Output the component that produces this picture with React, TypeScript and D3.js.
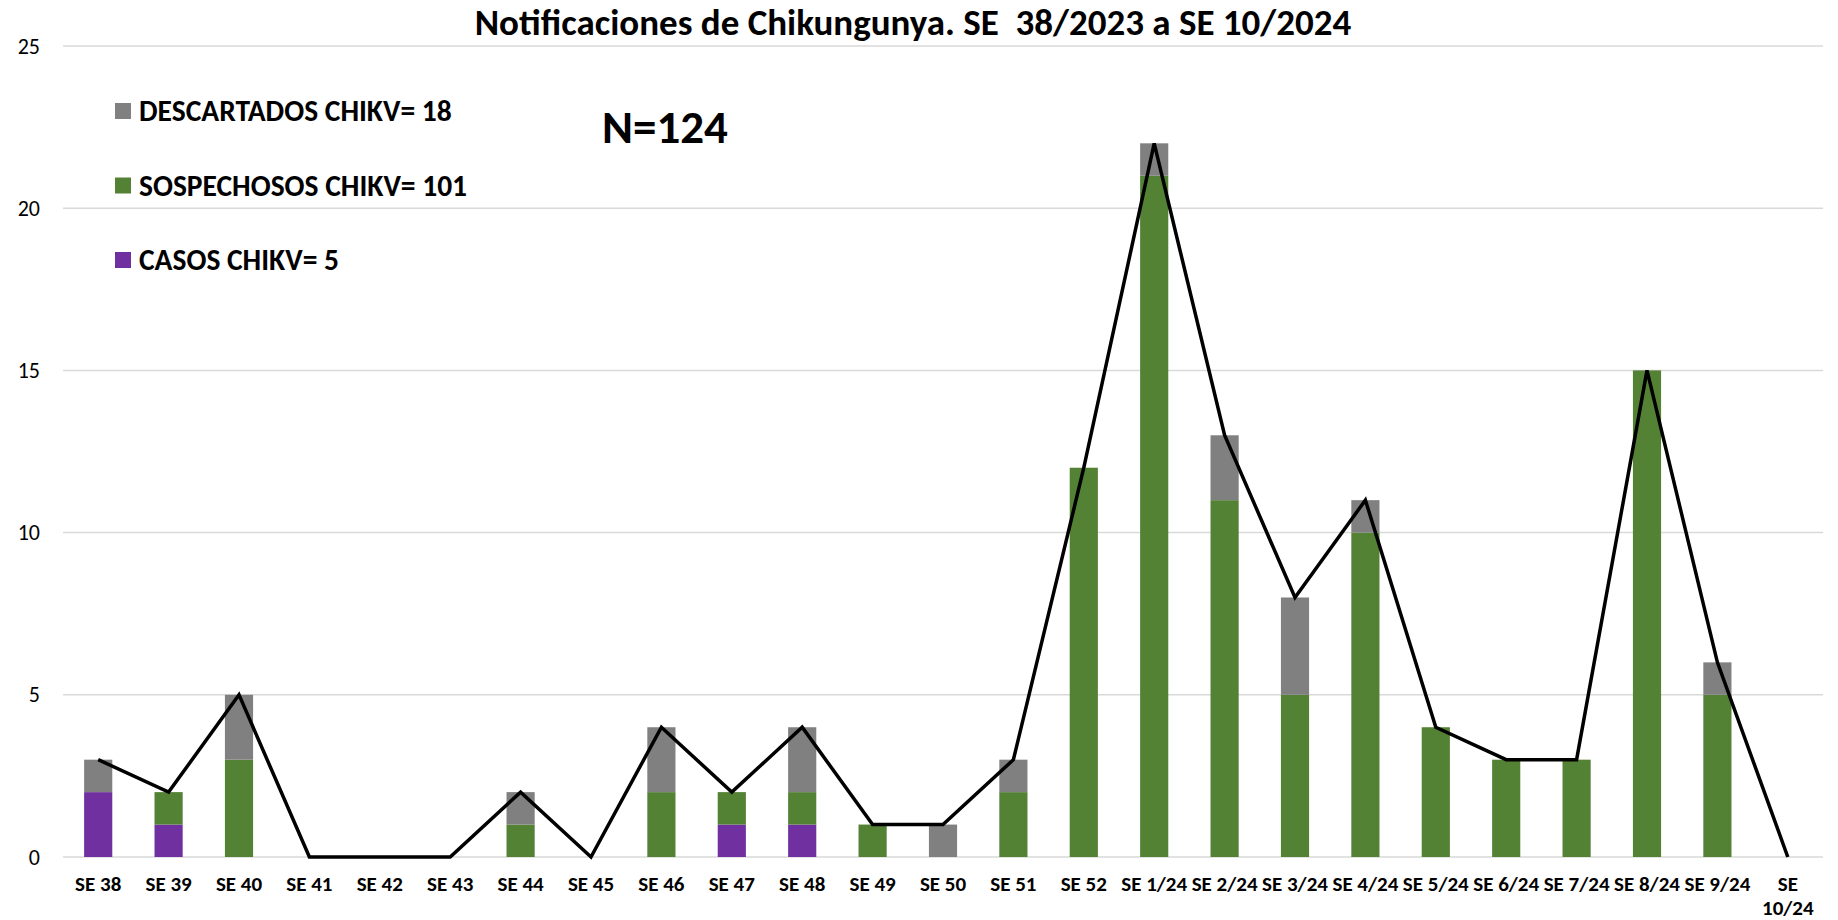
import React, { useEffect } from "react";
import * as d3 from "d3";

// Semanas epidemiológicas
const categorias = [
  "SE 38", "SE 39", "SE 40", "SE 41", "SE 42", "SE 43", "SE 44", "SE 45",
  "SE 46", "SE 47", "SE 48", "SE 49", "SE 50", "SE 51", "SE 52",
  "SE 1/24", "SE 2/24", "SE 3/24", "SE 4/24", "SE 5/24", "SE 6/24",
  "SE 7/24", "SE 8/24", "SE 9/24", "SE 10/24",
];

const casos = [2, 1, 0, 0, 0, 0, 0, 0, 0, 1, 1, 0, 0, 0, 0, 0, 0, 0, 0, 0, 0, 0, 0, 0, 0];
const sospechosos = [0, 1, 3, 0, 0, 0, 1, 0, 2, 1, 1, 1, 0, 2, 12, 21, 11, 5, 10, 4, 3, 3, 15, 5, 0];
const descartados = [1, 0, 2, 0, 0, 0, 1, 0, 2, 0, 2, 0, 1, 1, 0, 1, 2, 3, 1, 0, 0, 0, 0, 1, 0];
const totales = [3, 2, 5, 0, 0, 0, 2, 0, 4, 2, 4, 1, 1, 3, 12, 22, 13, 8, 11, 4, 3, 3, 15, 6, 0];

const yTicks = [0, 5, 10, 15, 20, 25];

const series = [
  { key: "casos", label: "CASOS CHIKV= 5", values: casos, color: "#7030a0" },
  { key: "sospechosos", label: "SOSPECHOSOS CHIKV= 101", values: sospechosos, color: "#548235" },
  { key: "descartados", label: "DESCARTADOS CHIKV= 18", values: descartados, color: "#808080" },
];

const W = 1838;
const H = 920;
const margin = { top: 46, right: 15, bottom: 63, left: 63 };
const FONT = "Carlito, 'Liberation Sans Narrow', 'Open Sans', sans-serif";

export default function App() {
  useEffect(() => {
    document.body.style.margin = "0";
  }, []);

  const x = d3
    .scaleBand<string>()
    .domain(categorias)
    .range([margin.left, W - margin.right])
    .paddingInner(0.6)
    .paddingOuter(0.3);

  const y = d3.scaleLinear().domain([0, 25]).range([H - margin.bottom, margin.top]);

  const rows = categorias.map((c, i) => {
    const r: any = { cat: c };
    series.forEach((s) => (r[s.key] = s.values[i]));
    return r;
  });
  const stacked = d3.stack().keys(series.map((s) => s.key))(rows);

  const cx = (c: string) => (x(c) ?? 0) + x.bandwidth() / 2;
  const line = d3
    .line<number>()
    .x((_, i) => cx(categorias[i]))
    .y((d) => y(d));

  const legendItems = [series[2], series[1], series[0]];

  return (
    <svg width={W} height={H} style={{ display: "block", background: "#fff" }}>
      {yTicks.map((t) => (
        <g key={t}>
          <line
            x1={margin.left}
            x2={W - margin.right}
            y1={y(t)}
            y2={y(t)}
            stroke="#d9d9d9"
            strokeWidth={1.5}
          />
          <text
            x={40}
            y={y(t)}
            textAnchor="end"
            dominantBaseline="central"
            fontFamily={FONT}
            fontSize={22}
            fill="#000"
          >
            {t}
          </text>
        </g>
      ))}

      {stacked.map((layer, li) => (
        <g key={layer.key} fill={series[li].color}>
          {layer.map((d, i) =>
            d[1] - d[0] > 0 ? (
              <rect
                key={i}
                x={x(categorias[i])}
                width={x.bandwidth()}
                y={y(d[1])}
                height={y(d[0]) - y(d[1])}
              />
            ) : null
          )}
        </g>
      ))}

      <path d={line(totales) ?? ""} fill="none" stroke="#000" strokeWidth={3.5} strokeLinejoin="miter" />

      {categorias.map((c) => {
        const parts = c === "SE 10/24" ? ["SE", "10/24"] : [c];
        return (
          <text
            key={c}
            x={cx(c)}
            y={884}
            textAnchor="middle"
            fontFamily={FONT}
            fontWeight="bold"
            fontSize={21}
            fill="#000"
          >
            {parts.map((p, k) => (
              <tspan key={k} x={cx(c)} dy={k === 0 ? "0.35em" : 24}>
                {p}
              </tspan>
            ))}
          </text>
        );
      })}

      {legendItems.map((s, i) => (
        <g key={s.key} transform={`translate(115, ${111 + i * 74.5})`}>
          <rect x={0} y={-8} width={16} height={16} fill={s.color} />
          <text
            x={24}
            y={0}
            dominantBaseline="central"
            fontFamily={FONT}
            fontWeight="bold"
            fontSize={29.5}
            fill="#000"
          >
            {s.label}
          </text>
        </g>
      ))}

      <text
        x={665}
        y={127}
        textAnchor="middle"
        dominantBaseline="central"
        fontFamily={FONT}
        fontWeight="bold"
        fontSize={47}
        fill="#000"
      >
        N=124
      </text>

      <text
        x={913}
        y={22}
        textAnchor="middle"
        dominantBaseline="central"
        fontFamily={FONT}
        fontWeight="bold"
        fontSize={37}
        fill="#000"
        style={{ whiteSpace: "pre" }}
      >
        Notificaciones de Chikungunya. SE  38/2023 a SE 10/2024
      </text>
    </svg>
  );
}
